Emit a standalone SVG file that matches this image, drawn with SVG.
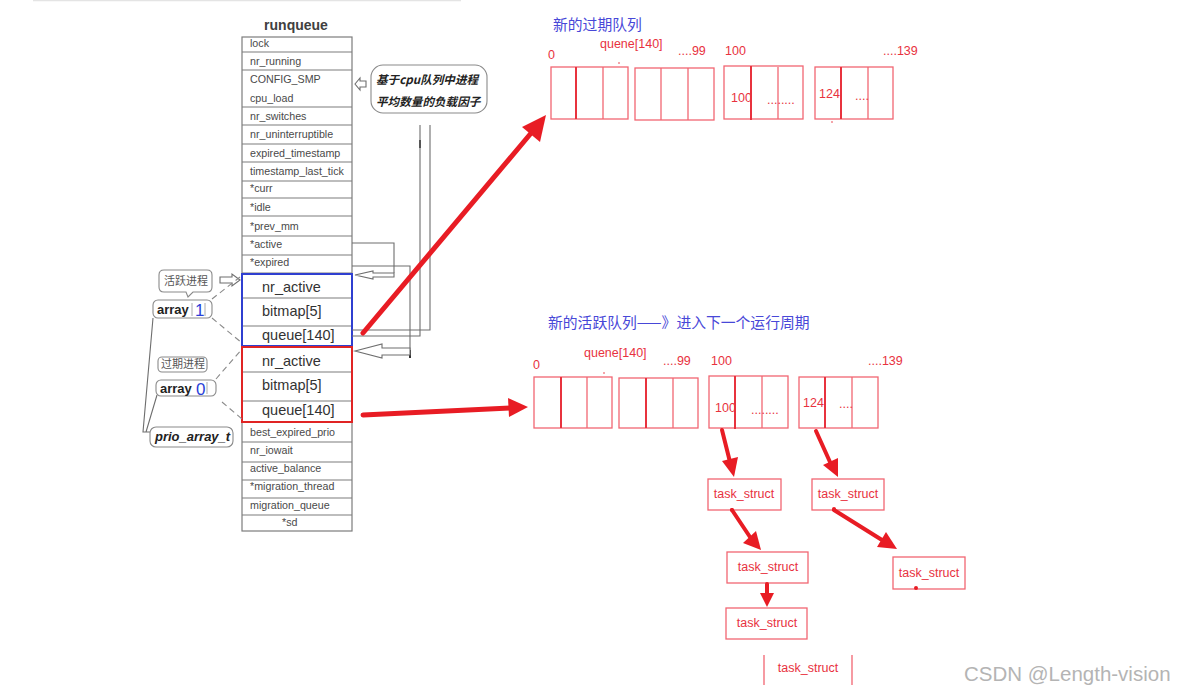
<svg xmlns="http://www.w3.org/2000/svg" width="1181" height="695" viewBox="0 0 1181 695">
<defs>
<style>
.bg{fill:#ffffff}
.tl{stroke:#7c7c7c;stroke-width:1.2;fill:none}
.ts{font-family:"Liberation Sans","DejaVu Sans",sans-serif;font-size:10.7px;fill:#4a4a4a}
.tb{font-family:"Liberation Sans","DejaVu Sans",sans-serif;font-size:14.5px;fill:#333333}
.gl{stroke:#6e6e6e;stroke-width:1.1;fill:none}
.ha{fill:#ffffff;stroke:#6e6e6e;stroke-width:1.1}
.cb{fill:#ffffff;stroke:#8a8a8a;stroke-width:1.1}
.cn{font-family:"Noto Sans CJK SC",sans-serif;font-size:11px;fill:#555555}
.ab{font-family:"Liberation Sans",sans-serif;font-size:13px;font-weight:bold;fill:#222222}
.bn{font-family:"Liberation Sans",sans-serif;font-size:17px;fill:#2b3fd8}
.dash{stroke:#8a8a8a;stroke-width:1.1;fill:none;stroke-dasharray:6 4}
.rb{fill:none;stroke:#f26672;stroke-width:1.3}
.rd{stroke:#e8323e;stroke-width:2}
.rt{font-family:"Liberation Sans","Noto Sans CJK SC",sans-serif;font-size:12.5px;fill:#e8323e}
.bt{font-family:"Noto Sans CJK SC",sans-serif;font-size:14.8px;fill:#4848d8}
.ar{stroke:#e81c24;stroke-width:5;fill:none;stroke-linecap:round}
.ar2{stroke:#e81c24;stroke-width:4;fill:none;stroke-linecap:round}
.ah{fill:#e81c24}
.nt{font-family:"Noto Sans CJK SC",sans-serif;font-size:11.6px;font-weight:bold;font-style:italic;fill:#222222}
</style>
</defs>
<rect class="bg" x="0" y="0" width="1181" height="695"/>
<line x1="33" y1="0.5" x2="461" y2="0.5" stroke="#e4e4e4" stroke-width="1.5"/>

<g id="runqueue">
<text x="296" y="30" text-anchor="middle" font-family="Liberation Sans,sans-serif" font-size="14px" font-weight="bold" fill="#404040">runqueue</text>
<rect class="tl" x="242" y="37" width="110" height="494"/>
<path class="tl" d="M242,52H352M242,70H352M242,107H352M242,125H352M242,144H352M242,162H352M242,181H352M242,198H352M242,216H352M242,236H352M242,255H352M242,273H352M242,422H352M242,442H352M242,462H352M242,480H352M242,498H352M242,515H352"/>
<text class="ts" x="250" y="47">lock</text>
<text class="ts" x="250" y="65">nr_running</text>
<text class="ts" x="250" y="83">CONFIG_SMP</text>
<text class="ts" x="250" y="102">cpu_load</text>
<text class="ts" x="250" y="120">nr_switches</text>
<text class="ts" x="250" y="138">nr_uninterruptible</text>
<text class="ts" x="250" y="157">expired_timestamp</text>
<text class="ts" x="250" y="175">timestamp_last_tick</text>
<text class="ts" x="250" y="192">*curr</text>
<text class="ts" x="250" y="211">*idle</text>
<text class="ts" x="250" y="230">*prev_mm</text>
<text class="ts" x="250" y="248">*active</text>
<text class="ts" x="250" y="266">*expired</text>
<text class="ts" x="250" y="436">best_expired_prio</text>
<text class="ts" x="250" y="454">nr_iowait</text>
<text class="ts" x="250" y="472">active_balance</text>
<text class="ts" x="250" y="490">*migration_thread</text>
<text class="ts" x="250" y="509">migration_queue</text>
<text class="ts" x="282" y="526">*sd</text>
</g>

<g id="active-array">
<rect x="242" y="274" width="110" height="72" fill="#ffffff" stroke="#2f3fd0" stroke-width="2"/>
<path class="tl" d="M243,298H351M243,326H351"/>
<text class="tb" x="262" y="292">nr_active</text>
<text class="tb" x="262" y="316">bitmap[5]</text>
<text class="tb" x="262" y="340">queue[140]</text>
</g>

<g id="expired-array">
<rect x="242" y="347" width="110" height="75" fill="#ffffff" stroke="#e02424" stroke-width="2"/>
<path class="tl" d="M243,372H351M243,401H351"/>
<text class="tb" x="262" y="366">nr_active</text>
<text class="tb" x="262" y="390">bitmap[5]</text>
<text class="tb" x="262" y="415">queue[140]</text>
</g>

<g id="cpu-load-note">
<rect class="cb" x="371" y="65" width="116" height="48" rx="12"/>
<text class="nt" x="376" y="84">基于cpu队列中进程</text>
<text class="nt" x="376" y="106">平均数量的负载因子</text>
</g>

<g id="active-label">
<path class="cb" d="M164,270H207Q212,270 212,275V287Q212,292 207,292H193L188,297L186,292H164Q159,292 159,287V275Q159,270 164,270Z"/>
<text class="cn" x="164" y="285">活跃进程</text>
</g>
<g id="array1">
<rect class="cb" x="153" y="300" width="59" height="18" rx="5"/>
<text class="ab" x="157" y="314">array</text>
<line x1="192" y1="303" x2="192" y2="316" stroke="#aaaaaa" stroke-width="1"/>
<text class="bn" x="195" y="316">1</text>
<line x1="205" y1="303" x2="205" y2="316" stroke="#aaaaaa" stroke-width="1"/>
</g>
<g id="expired-label">
<rect class="cb" x="158" y="357" width="49" height="15" rx="4"/>
<text class="cn" x="161" y="368" font-size="10.5px">过期进程</text>
</g>
<g id="array0">
<rect class="cb" x="156" y="380" width="60" height="16" rx="5"/>
<text class="ab" x="160" y="393">array</text>
<text class="bn" x="196" y="395">0</text>
<line x1="207" y1="382" x2="207" y2="394" stroke="#aaaaaa" stroke-width="1"/>
</g>
<g id="prio-array-t">
<rect class="cb" x="150" y="427" width="83" height="20" rx="6"/>
<text class="ab" x="155" y="441" font-style="italic">prio_array_t</text>
</g>

<g id="task1"><rect class="rb" x="708" y="479" width="73" height="31"/><text class="rt" x="744" y="498" text-anchor="middle">task_struct</text></g>
<g id="task2"><rect class="rb" x="812" y="479" width="72" height="31"/><text class="rt" x="848" y="498" text-anchor="middle">task_struct</text></g>
<g id="task3"><rect class="rb" x="727" y="552" width="81" height="31"/><text class="rt" x="768" y="571" text-anchor="middle">task_struct</text></g>
<g id="task4"><rect class="rb" x="893" y="557" width="72" height="32"/><text class="rt" x="929" y="577" text-anchor="middle">task_struct</text></g>
<g id="task5"><rect class="rb" x="726" y="608" width="81" height="31"/><text class="rt" x="767" y="627" text-anchor="middle">task_struct</text></g>
<g id="task6"><path class="rb" d="M764,655V685M852,655V685"/><text class="rt" x="808" y="672" text-anchor="middle">task_struct</text></g>

<g id="expired-queue">
<text class="bt" x="553" y="30">新的过期队列</text>
<text class="rt" x="548" y="59">0</text>
<text class="rt" x="600" y="48">quene[140]</text>
<text class="rt" x="678" y="55">....99</text>
<text class="rt" x="725" y="55">100</text>
<text class="rt" x="883" y="55">....139</text>
<rect class="rb" x="551" y="67" width="77" height="52"/><line class="rd" x1="576" y1="67" x2="576" y2="119"/><line class="rb" x1="603" y1="67" x2="603" y2="119"/>
<rect class="rb" x="635" y="68" width="79" height="52"/><line class="rb" x1="661" y1="68" x2="661" y2="120"/><line class="rb" x1="688" y1="68" x2="688" y2="120"/>
<rect class="rb" x="724" y="66" width="79" height="53"/><line class="rd" x1="751" y1="66" x2="751" y2="120"/><line class="rb" x1="778" y1="67" x2="778" y2="119"/>
<rect class="rb" x="815" y="67" width="78" height="52"/><line class="rd" x1="841" y1="67" x2="841" y2="119"/><line class="rb" x1="868" y1="67" x2="868" y2="119"/>
<text class="rt" x="731" y="102">100</text>
<text class="rt" x="767" y="104" font-size="9px">........</text>
<text class="rt" x="819" y="98">124</text>
<text class="rt" x="855" y="100" font-size="10px">....</text>
<circle cx="619" cy="63" r="0.8" fill="#e8323e"/>
<circle cx="832" cy="122" r="0.8" fill="#e8323e"/>
</g>

<g id="active-queue">
<text class="bt" x="548" y="328">新的活跃队列——》进入下一个运行周期</text>
<text class="rt" x="533" y="369">0</text>
<text class="rt" x="584" y="357">quene[140]</text>
<text class="rt" x="663" y="365">....99</text>
<text class="rt" x="711" y="365">100</text>
<text class="rt" x="868" y="365">....139</text>
<rect class="rb" x="534" y="377" width="78" height="51"/><line class="rd" x1="561" y1="377" x2="561" y2="428"/><line class="rb" x1="587" y1="377" x2="587" y2="428"/>
<rect class="rb" x="619" y="378" width="79" height="50"/><line class="rd" x1="646" y1="378" x2="646" y2="428"/><line class="rb" x1="673" y1="378" x2="673" y2="428"/>
<rect class="rb" x="709" y="376" width="79" height="52"/><line class="rd" x1="735" y1="376" x2="735" y2="429"/><line class="rb" x1="762" y1="376" x2="762" y2="428"/>
<rect class="rb" x="799" y="377" width="79" height="51"/><line class="rd" x1="825" y1="377" x2="825" y2="428"/><line class="rb" x1="852" y1="377" x2="852" y2="428"/>
<text class="rt" x="715" y="412">100</text>
<text class="rt" x="751" y="414" font-size="9px">........</text>
<text class="rt" x="803" y="407">124</text>
<text class="rt" x="839" y="408" font-size="10px">....</text>
<circle cx="604" cy="373" r="0.8" fill="#e8323e"/>
</g>

<g id="connectors">
<polygon class="ha" points="355,84 360,78 360,81 366,81 366,87 360,87 360,90"/>
<path class="gl" d="M352,243H394V273"/>
<polygon class="ha" points="355,275 373,271 373,273 394,273 394,277 373,277 373,279"/>
<path class="gl" d="M352,266H410V358"/>
<line x1="410" y1="350" x2="410" y2="358" stroke="#333" stroke-width="2"/>
<polygon class="ha" points="355,351 382,344 382,348 410,348 410,355 382,355 382,358"/>
<path class="gl" d="M420,125V336H352M430,125V330H352"/>
<line x1="420" y1="140" x2="420" y2="148" stroke="#555" stroke-width="2"/>
<polygon class="ha" points="240,280 232,274 232,277 220,277 220,283 232,283 232,286"/>
<path class="dash" d="M212,299L240,277M212,318L242,343M216,379L242,349M222,402L242,419"/>
<path class="gl" d="M153,318L143,432H150M157,395L146,432"/>

<line class="ar" x1="363" y1="333" x2="532" y2="132"/>
<polygon class="ah" points="546,115 540,142 522,127"/>
<line class="ar" x1="363" y1="415" x2="512" y2="408"/>
<polygon class="ah" points="528,407 509,417 508,398"/>

<line class="ar2" x1="722" y1="430" x2="730" y2="462"/>
<polygon class="ah" points="734,477 722,461 738,457"/>
<line class="ar2" x1="816" y1="431" x2="830" y2="462"/>
<polygon class="ah" points="838,477 823,465 838,458"/>
<line class="ar2" x1="732" y1="510" x2="750" y2="537"/>
<polygon class="ah" points="761,550 743,543 756,531"/>
<circle cx="732" cy="510" r="2" fill="#e81c24"/>
<line class="ar2" x1="834" y1="510" x2="882" y2="540"/>
<polygon class="ah" points="897,549 877,547 886,532"/>
<circle cx="834" cy="509" r="2" fill="#e81c24"/>
<line class="ar2" x1="767" y1="584" x2="767" y2="595"/>
<polygon class="ah" points="767,607 760,593 774,593"/>
<circle cx="916" cy="588" r="2" fill="#e81c24"/>
</g>

<text x="964" y="681" font-family="Liberation Sans,sans-serif" font-size="20.5px" fill="#b4b4b4">CSDN @Length-vision</text>
</svg>
